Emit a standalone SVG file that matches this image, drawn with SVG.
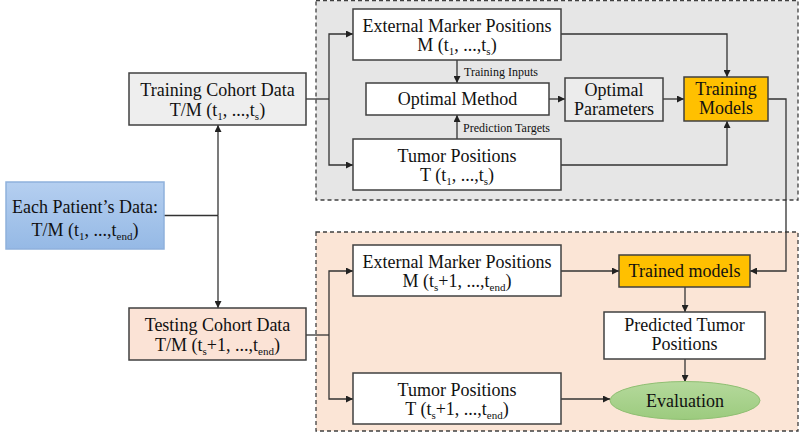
<svg xmlns="http://www.w3.org/2000/svg" width="800" height="432" viewBox="0 0 800 432" font-family="'Liberation Serif', 'Times New Roman', serif">
<defs>
<style>
text{font-family:'Liberation Serif','Times New Roman',serif;fill:#111;text-anchor:middle}
.t{font-size:18px}
.s{font-size:12px;text-anchor:start}
.b{stroke:#404040;stroke-width:1.5}
.c{fill:none;stroke:#333;stroke-width:1.3}
.panel{stroke:#404040;stroke-width:1.3;stroke-dasharray:4 3}
</style>
<marker id="a" viewBox="0 0 10 10" refX="10" refY="5" markerWidth="7" markerHeight="7" orient="auto" markerUnits="userSpaceOnUse"><path d="M0,0 L10,5 L0,10 z" fill="#222"/></marker>
<linearGradient id="blue" x1="0" y1="0" x2="0" y2="1"><stop offset="0" stop-color="#b5cff0"/><stop offset="1" stop-color="#95b9e5"/></linearGradient>
<linearGradient id="green" x1="0" y1="0" x2="0" y2="1"><stop offset="0" stop-color="#b5d99c"/><stop offset="1" stop-color="#9ccb7e"/></linearGradient>
</defs>

<g id="panel-training"><rect x="316" y="0.5" width="482" height="199.5" fill="#e6e6e6" class="panel"/></g>
<g id="panel-testing"><rect x="316" y="232" width="482" height="199" fill="#fbe5d6" class="panel"/></g>

<g id="connectors">
<path class="c" d="M164,215.5 H218"/>
<path class="c" d="M218,215.5 V125" marker-end="url(#a)"/>
<path class="c" d="M218,215.5 V308" marker-end="url(#a)"/>
<path class="c" d="M306,99 H329"/>
<path class="c" d="M329,99 V34 H353" marker-end="url(#a)"/>
<path class="c" d="M329,99 V165 H353" marker-end="url(#a)"/>
<path class="c" d="M457,60 V83" marker-end="url(#a)"/>
<path class="c" d="M457,139 V115" marker-end="url(#a)"/>
<path class="c" d="M549,99 H565" marker-end="url(#a)"/>
<path class="c" d="M663,99 H684" marker-end="url(#a)"/>
<path class="c" d="M561,34 H727 V77" marker-end="url(#a)"/>
<path class="c" d="M561,165 H727 V121" marker-end="url(#a)"/>
<path class="c" d="M768,99 H786 V271 H750" marker-end="url(#a)"/>
<path class="c" d="M306,335 H329"/>
<path class="c" d="M329,335 V271 H353" marker-end="url(#a)"/>
<path class="c" d="M329,335 V399 H353" marker-end="url(#a)"/>
<path class="c" d="M561,271 H619" marker-end="url(#a)"/>
<path class="c" d="M685,287 V312" marker-end="url(#a)"/>
<path class="c" d="M685,359 V382" marker-end="url(#a)"/>
<path class="c" d="M561,399 H610" marker-end="url(#a)"/>
<text class="s" x="464" y="76">Training Inputs</text>
<text class="s" x="463" y="132">Prediction Targets</text>
</g>

<g id="patient">
<rect x="6" y="182" width="158" height="67" fill="url(#blue)" stroke="#8fb1dc" stroke-width="1.5"/>
<text class="t" x="85" y="213">Each Patient’s Data:</text>
<text class="t" x="85" y="236">T/M (t<tspan font-size="11" dy="4">1</tspan><tspan dy="-4">, ...,t</tspan><tspan font-size="11" dy="4">end</tspan><tspan dy="-4">)</tspan></text>
</g>

<g id="training-cohort">
<rect x="129" y="73" width="177" height="52" fill="#eeeeee" class="b"/>
<text class="t" x="217.5" y="96">Training Cohort Data</text>
<text class="t" x="217.5" y="116">T/M (t<tspan font-size="11" dy="4">1</tspan><tspan dy="-4">, ...,t</tspan><tspan font-size="11" dy="4">s</tspan><tspan dy="-4">)</tspan></text>
</g>

<g id="testing-cohort">
<rect x="129" y="308" width="177" height="52" fill="#fbe3d6" class="b"/>
<text class="t" x="217.5" y="331">Testing Cohort Data</text>
<text class="t" x="217.5" y="351">T/M (t<tspan font-size="11" dy="4">s</tspan><tspan dy="-4">+1, ...,t</tspan><tspan font-size="11" dy="4">end</tspan><tspan dy="-4">)</tspan></text>
</g>

<g id="ext-marker-train">
<rect x="353" y="9" width="208" height="51" fill="#fff" class="b"/>
<text class="t" x="457" y="32">External Marker Positions</text>
<text class="t" x="457" y="51">M (t<tspan font-size="11" dy="4">1</tspan><tspan dy="-4">, ...,t</tspan><tspan font-size="11" dy="4">s</tspan><tspan dy="-4">)</tspan></text>
</g>

<g id="optimal-method">
<rect x="366" y="83" width="183" height="32" fill="#fff" class="b"/>
<text class="t" x="457.5" y="105">Optimal Method</text>
</g>

<g id="tumor-train">
<rect x="353" y="139" width="208" height="51" fill="#fff" class="b"/>
<text class="t" x="457" y="162">Tumor Positions</text>
<text class="t" x="457" y="181">T (t<tspan font-size="11" dy="4">1</tspan><tspan dy="-4">, ...,t</tspan><tspan font-size="11" dy="4">s</tspan><tspan dy="-4">)</tspan></text>
</g>

<g id="optimal-params">
<rect x="565" y="78" width="98" height="43" fill="#ececec" class="b"/>
<text class="t" x="614" y="96">Optimal</text>
<text class="t" x="614" y="115">Parameters</text>
</g>

<g id="training-models">
<rect x="684" y="77" width="84" height="44" fill="#ffc000" class="b"/>
<text class="t" x="726" y="95">Training</text>
<text class="t" x="726" y="114">Models</text>
</g>

<g id="ext-marker-test">
<rect x="353" y="245" width="208" height="51" fill="#fff" class="b"/>
<text class="t" x="457" y="268">External Marker Positions</text>
<text class="t" x="457" y="287">M (t<tspan font-size="11" dy="4">s</tspan><tspan dy="-4">+1, ...,t</tspan><tspan font-size="11" dy="4">end</tspan><tspan dy="-4">)</tspan></text>
</g>

<g id="tumor-test">
<rect x="353" y="373" width="208" height="51" fill="#fff" class="b"/>
<text class="t" x="457" y="396">Tumor Positions</text>
<text class="t" x="457" y="415">T (t<tspan font-size="11" dy="4">s</tspan><tspan dy="-4">+1, ...,t</tspan><tspan font-size="11" dy="4">end</tspan><tspan dy="-4">)</tspan></text>
</g>

<g id="trained-models">
<rect x="619" y="255" width="131" height="32" fill="#ffc000" class="b"/>
<text class="t" x="684.5" y="277">Trained models</text>
</g>

<g id="predicted">
<rect x="604" y="312" width="161" height="47" fill="#fff" class="b"/>
<text class="t" x="684.5" y="331">Predicted Tumor</text>
<text class="t" x="684.5" y="350">Positions</text>
</g>

<g id="evaluation">
<ellipse cx="685" cy="400.5" rx="75" ry="19" fill="url(#green)" stroke="#8fbf72" stroke-width="1"/>
<text class="t" x="685" y="407">Evaluation</text>
</g>
</svg>
